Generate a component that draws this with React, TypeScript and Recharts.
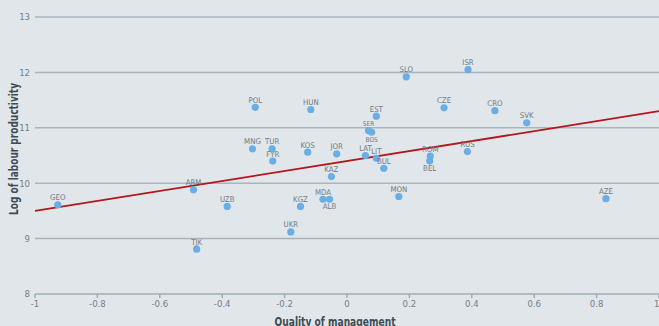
import {
  ScatterChart,
  Scatter,
  XAxis,
  YAxis,
  CartesianGrid,
  ReferenceLine,
} from "recharts";

const countries = [
  "POL", "HUN", "MNG", "TUR", "FYR", "KOS", "SLO", "ISR", "CZE", "CRO",
  "SVK", "EST", "SER", "BOS", "JOR", "LAT", "LIT", "ROM", "BEL", "RUS",
  "BUL", "KAZ", "ARM", "GEO", "UZB", "KGZ", "MDA", "ALB", "UKR", "TJK",
  "MON", "AZE",
];
const management = [
  -0.294, -0.116, -0.303, -0.24, -0.238, -0.126, 0.19, 0.388, 0.311, 0.474,
  0.576, 0.094, 0.069, 0.079, -0.033, 0.059, 0.094, 0.267, 0.265, 0.386,
  0.118, -0.05, -0.492, -0.927, -0.384, -0.149, -0.077, -0.056, -0.18, -0.482,
  0.166, 0.83,
];
const productivity = [
  11.37, 11.33, 10.62, 10.62, 10.4, 10.56, 11.92, 12.05, 11.36, 11.31,
  11.09, 11.21, 10.95, 10.92, 10.53, 10.5, 10.45, 10.49, 10.4, 10.57,
  10.27, 10.12, 9.88, 9.61, 9.58, 9.58, 9.71, 9.71, 9.12, 8.81,
  9.76, 9.72,
];
const labelBelow = ["BOS", "BEL", "ALB"];
const smallLabels = ["SER", "BOS"];

const xTicks = [-1, -0.8, -0.6, -0.4, -0.2, 0, 0.2, 0.4, 0.6, 0.8, 1];
const yTicks = [8, 9, 10, 11, 12, 13];
const fitStart = { x: -1, y: 9.5 };
const fitEnd = { x: 1, y: 11.3 };

const xTitle = "Quality of management";
const yTitle = "Log of labour productivity";

const data = countries.map((name, i) => ({
  name,
  x: management[i],
  y: productivity[i],
}));

const FONT = "'Liberation Sans Narrow', 'DejaVu Sans Condensed', sans-serif";
const TITLE_COLOR = "#3f4c55";

const Dot = (props: any) => {
  const { cx, cy, payload } = props;
  const below = labelBelow.includes(payload.name);
  const small = smallLabels.includes(payload.name);
  return (
    <g>
      <circle cx={cx} cy={cy} r={3.6} fill="#6aaee6" />
      <text
        x={cx}
        y={below ? cy + 10 : cy - 4.5}
        textAnchor="middle"
        fontSize={small ? 6.5 : 7.8}
        fontFamily={FONT}
        fill="#6f7b84"
      >
        {payload.name}
      </text>
    </g>
  );
};

export default function App() {
  return (
    <div
      style={{
        position: "absolute",
        top: 0,
        left: 0,
        width: 659,
        height: 326,
        background: "#e1e6ea",
        overflow: "hidden",
      }}
    >
      <ScatterChart
        width={659}
        height={326}
        margin={{ top: 17, right: 0, bottom: 0, left: 0 }}
      >
        <CartesianGrid
          vertical={false}
          stroke="#a9b5bc"
          strokeWidth={1.5}
          horizontalValues={[9, 10, 11, 12, 13]}
        />
        <XAxis
          type="number"
          dataKey="x"
          domain={[-1, 1]}
          ticks={xTicks}
          height={32}
          stroke="#9fadb5"
          strokeWidth={1.5}
          tickSize={4}
          tick={{ fill: "#737f88", fontSize: 9.5, fontFamily: FONT }}
        />
        <YAxis
          type="number"
          dataKey="y"
          domain={[8, 13]}
          ticks={yTicks}
          width={35}
          axisLine={false}
          tickLine={false}
          tickSize={0}
          tickMargin={5}
          tick={{ fill: "#737f88", fontSize: 9.5, fontFamily: FONT }}
        />
        <Scatter data={data} shape={<Dot />} isAnimationActive={false} />
        <ReferenceLine
          segment={[fitStart, fitEnd]}
          stroke="#b3161c"
          strokeWidth={1.8}
          ifOverflow="extendDomain"
        />
      </ScatterChart>
      {/* axis titles: condensed bold, squeezed to the reference widths */}
      <svg
        width={659}
        height={326}
        style={{ position: "absolute", top: 0, left: 0, pointerEvents: "none" }}
      >
        <text
          x={335}
          y={326}
          textAnchor="middle"
          fontFamily={FONT}
          fontWeight="bold"
          fontSize={13}
          fill={TITLE_COLOR}
          textLength={121}
          lengthAdjust="spacingAndGlyphs"
        >
          {xTitle}
        </text>
        <text
          x={17.5}
          y={149}
          transform="rotate(-90, 17.5, 149)"
          textAnchor="middle"
          fontFamily={FONT}
          fontWeight="bold"
          fontSize={11.5}
          fill={TITLE_COLOR}
          textLength={132}
          lengthAdjust="spacingAndGlyphs"
        >
          {yTitle}
        </text>
      </svg>
    </div>
  );
}
